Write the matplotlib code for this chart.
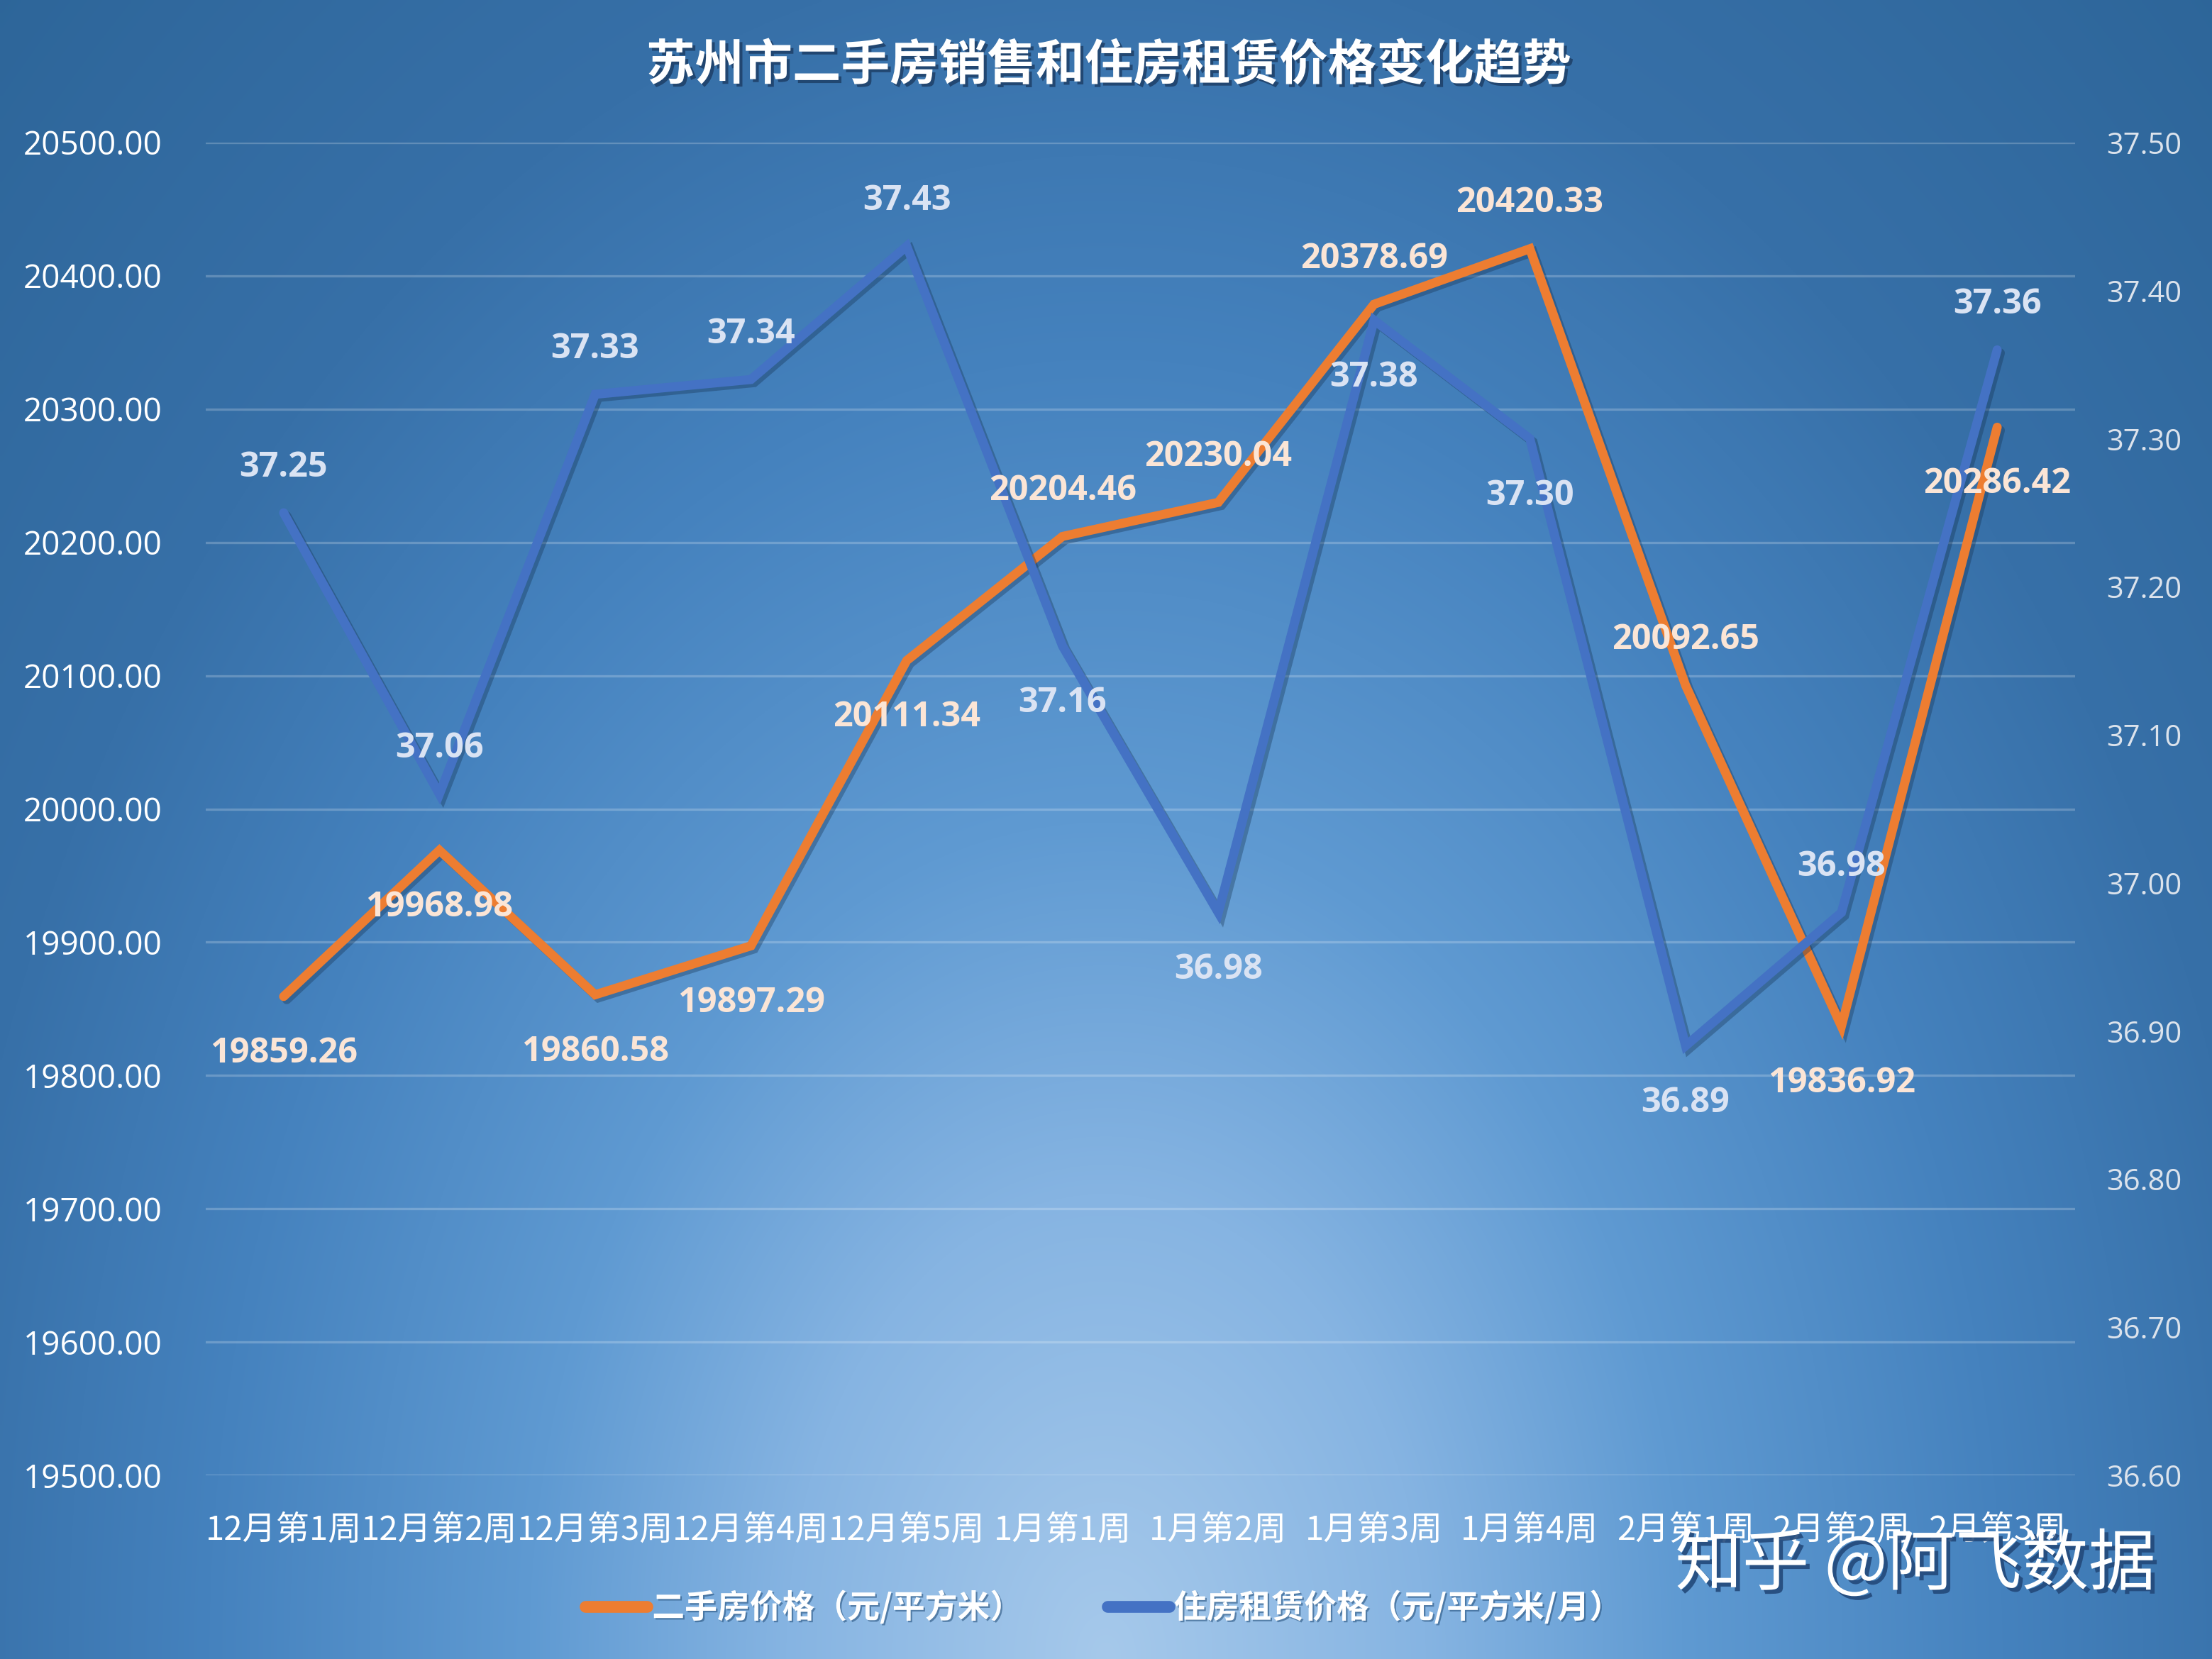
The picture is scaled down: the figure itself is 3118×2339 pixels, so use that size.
import numpy as np
import matplotlib
matplotlib.use("Agg")
import matplotlib.pyplot as plt
import matplotlib.patheffects as pe
from matplotlib.colors import to_rgb
from matplotlib.lines import Line2D

plt.rcParams['font.family'] = ['Noto Sans CJK SC', 'DejaVu Sans']

# ---------------- data ----------------
categories = ['12月第1周', '12月第2周', '12月第3周', '12月第4周', '12月第5周',
              '1月第1周', '1月第2周', '1月第3周', '1月第4周',
              '2月第1周', '2月第2周', '2月第3周']
sale_price = [19859.26, 19968.98, 19860.58, 19897.29, 20111.34, 20204.46,
              20230.04, 20378.69, 20420.33, 20092.65, 19836.92, 20286.42]
rent_price = [37.25, 37.06, 37.33, 37.34, 37.43, 37.16,
              36.98, 37.38, 37.30, 36.89, 36.98, 37.36]
sale_label_side = ['below', 'below', 'below', 'below', 'below', 'above',
                   'above', 'above', 'above', 'above', 'below', 'below']
rent_label_side = ['above', 'above', 'above', 'above', 'above', 'below',
                   'below', 'below', 'below', 'below', 'above', 'above']
left_ticks = [19500 + 100 * i for i in range(11)]
right_ticks = [36.6 + 0.1 * i for i in range(10)]

title = '苏州市二手房销售和住房租赁价格变化趋势'
sale_name = '二手房价格（元/平方米）'
rent_name = '住房租赁价格（元/平方米/月）'
watermark = '知乎 @阿飞数据'

ORANGE = '#ED7D31'
BLUE = '#4472C4'

W, H = 3118, 2339
DPI = 200
fig = plt.figure(figsize=(W / DPI, H / DPI), dpi=DPI)

# ---------------- background gradient ----------------
bg = fig.add_axes([0, 0, 1, 1], zorder=-10)
bg.set_axis_off()
ny, nx = 400, 520
yy, xx = np.mgrid[0:ny, 0:nx]
fx = xx / (nx - 1)
fy = 1 - yy / (ny - 1)  # 0 at bottom
d = np.sqrt(((fx - 0.5) / 0.58) ** 2 + (fy / 1.12) ** 2)
stops = [0.0, 0.25, 0.45, 0.7, 0.92, 1.3]
cols = ['#A6C9EB', '#86B4E2', '#5F9AD2', '#4582BE', '#3770A8', '#2C6497']
rgb = np.array([to_rgb(c) for c in cols])
img = np.zeros((ny, nx, 3))
for k in range(3):
    img[..., k] = np.interp(d, stops, rgb[:, k])
bg.imshow(img, aspect='auto', extent=[0, 1, 0, 1], interpolation='bilinear')
bg.set_xlim(0, 1)
bg.set_ylim(0, 1)

# ---------------- main axes ----------------
left = 290 / W
right = 2925 / W
bottom = 1 - 2080 / H
top = 1 - 201 / H
ax = fig.add_axes([left, bottom, right - left, top - bottom])
ax.patch.set_alpha(0)
ax2 = ax.twinx()
ax2.patch.set_alpha(0)

x = np.arange(len(categories))

shadow = [pe.SimpleLineShadow(offset=(1.6, -1.6), shadow_color='#14304f', alpha=0.35), pe.Normal()]
ax.plot(x, sale_price, color=ORANGE, lw=4.6, solid_capstyle='round',
        solid_joinstyle='miter', path_effects=shadow, zorder=3)
ax2.plot(x, rent_price, color=BLUE, lw=4.6, solid_capstyle='round',
         solid_joinstyle='miter', path_effects=shadow, zorder=3)

ax.set_xlim(-0.5, len(categories) - 0.5)
ax.set_ylim(19500, 20500)
ax2.set_ylim(36.6, 37.5)
ax.set_yticks(left_ticks)
ax.set_yticklabels([f'{v:.2f}' for v in left_ticks])
ax2.set_yticks(right_ticks)
ax2.set_yticklabels([f'{v:.2f}' for v in right_ticks])
ax.set_xticks(x)
ax.set_xticklabels(categories)

for a in (ax, ax2):
    for s in a.spines.values():
        s.set_visible(False)
    a.tick_params(length=0)

ax.grid(axis='y', color='white', alpha=0.22, lw=1.2)
ax.set_axisbelow(True)

for lab in ax.get_yticklabels():
    lab.set_fontfamily(['Open Sans', 'DejaVu Sans'])
    lab.set_fontsize(16.5)
    lab.set_color('white')
ax.tick_params(axis='y', pad=22)
for lab in ax2.get_yticklabels():
    lab.set_fontfamily(['Open Sans', 'DejaVu Sans'])
    lab.set_fontsize(15)
    lab.set_color('#DCE3EC')
ax2.tick_params(axis='y', pad=16)
for lab in ax.get_xticklabels():
    lab.set_fontsize(17)
    lab.set_color('white')
ax.tick_params(axis='x', pad=19)

# ---------------- data labels (all drawn above both lines) ----------------
ABOVE, BELOW = 23, -29
for xi, v, side in zip(x, sale_price, sale_label_side):
    dy = ABOVE if side == 'above' else BELOW
    ax2.annotate(f'{v:.2f}', (xi, v), xycoords=ax.transData,
                 xytext=(0, dy), textcoords='offset points',
                 ha='center', va='center', fontsize=17.5, fontweight='bold',
                 family=['Open Sans', 'DejaVu Sans'], color='#FBE5D6', zorder=6)
for xi, v, side in zip(x, rent_price, rent_label_side):
    dy = ABOVE if side == 'above' else BELOW
    ax2.annotate(f'{v:.2f}', (xi, v), xytext=(0, dy), textcoords='offset points',
                 ha='center', va='center', fontsize=17.5, fontweight='bold',
                 family=['Open Sans', 'DejaVu Sans'], color='#DAE3F3', zorder=6)

# ---------------- title ----------------
fig.text(1563 / W, 1 - 93 / H, title, ha='center', va='center', fontsize=24.7,
         fontweight='bold', color='white',
         path_effects=[pe.withSimplePatchShadow(offset=(1.5, -1.5),
                                                shadow_rgbFace='#1c3c63', alpha=0.8)])

# ---------------- legend ----------------
handles = [Line2D([0], [0], color=ORANGE, lw=6, solid_capstyle='round'),
           Line2D([0], [0], color=BLUE, lw=6, solid_capstyle='round')]
leg = fig.legend(handles, [sale_name, rent_name], loc='center',
                 bbox_to_anchor=(1556 / W, 1 - 2267 / H), ncol=2, frameon=False,
                 handlelength=1.9, handletextpad=0.15, columnspacing=2.6,
                 prop={'family': ['Noto Sans CJK SC', 'DejaVu Sans'],
                       'weight': 'bold', 'size': 16.5})
for t in leg.get_texts():
    t.set_color('white')
    t.set_path_effects([pe.withSimplePatchShadow(offset=(0.8, -0.8),
                                                 shadow_rgbFace='#2a5580', alpha=0.6)])

# ---------------- watermark ----------------
fig.text(2700 / W, 1 - 2207 / H, watermark, ha='center', va='center',
         fontsize=34, color='white',
         path_effects=[pe.withSimplePatchShadow(offset=(2, -2),
                                                shadow_rgbFace='#23497a', alpha=0.9)],
         zorder=20)

fig.savefig('out.png', dpi=DPI)
